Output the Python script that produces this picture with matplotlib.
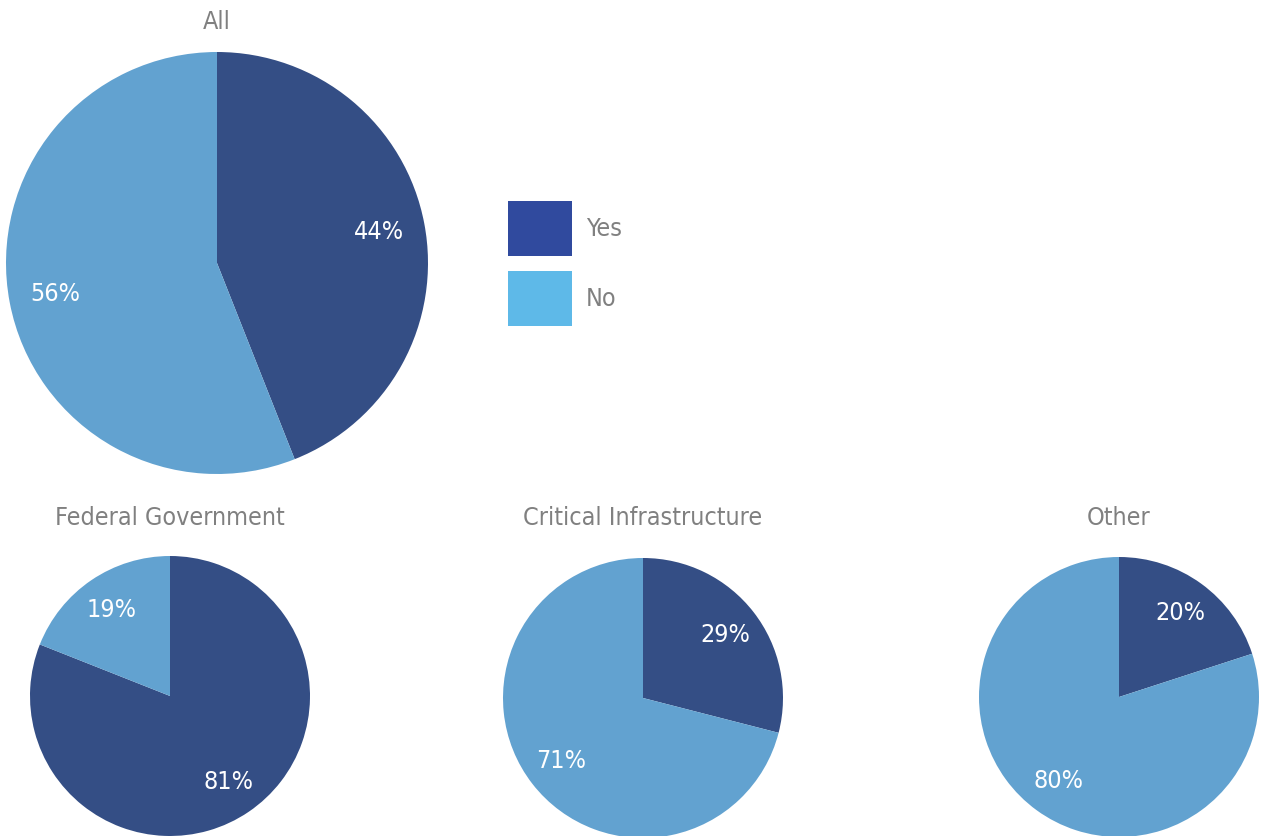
import matplotlib.pyplot as plt
from matplotlib.patches import Patch

# survey answers, in percent
groups = ["All", "Federal Government", "Critical Infrastructure", "Other"]
answers = ["Yes", "No"]
yes_pct = [44, 81, 29, 20]
no_pct = [56, 19, 71, 80]

pie_colors = ["#344e85", "#62a2d0"]
legend_colors = ["#304a9e", "#5eb9e8"]
text_grey = "#808080"

plt.rcParams["font.family"] = ["DejaVu Sans"]
plt.rcParams["font.stretch"] = "condensed"

W, H = 1262, 836
fig = plt.figure(figsize=(W / 100, H / 100), dpi=100)


def px_axes(cx, cy, r):
    """axes box (figure fraction) around a pie centred at pixel cx, cy"""
    return [(cx - r) / W, (H - cy - r) / H, 2 * r / W, 2 * r / H]


# pixel centre and radius of each pie
layout = [(217, 263, 211), (170, 696, 140), (643, 698, 140), (1119, 697, 140)]
title_y = [22, 518]
fs = 18

for i, (name, (cx, cy, r)) in enumerate(zip(groups, layout)):
    ax = fig.add_axes(px_axes(cx, cy, r))
    vals = [yes_pct[i], no_pct[i]]
    wedges, texts, autotexts = ax.pie(
        vals, colors=pie_colors, startangle=90, counterclock=False,
        autopct="%d%%", pctdistance=0.78 if i == 0 else 0.74,
        wedgeprops=dict(linewidth=0))
    for t in autotexts:
        t.set_color("white")
        t.set_fontsize(fs)
    ax.set_xlim(-1, 1)
    ax.set_ylim(-1, 1)
    ax.set_aspect("equal")
    ty = title_y[0] if i == 0 else title_y[1]
    fig.text(cx / W, 1 - ty / H, name, ha="center", va="center",
             fontsize=fs, color=text_grey)

# legend boxes are 64x55 px, 15 px apart
fs_px = fs * 100 / 72
hh = (55 / fs_px - 0.245) / 0.65
handles = [Patch(facecolor=c, edgecolor="none") for c in legend_colors]
fig.legend(handles, answers, loc="upper left",
           bbox_to_anchor=(508 / W, 1 - 201 / H), frameon=False,
           fontsize=fs, labelcolor=text_grey,
           handlelength=64 / fs_px, handleheight=hh,
           handletextpad=14 / fs_px, labelspacing=15 / fs_px,
           borderpad=0, borderaxespad=0)

fig.savefig("out.png", dpi=100)
